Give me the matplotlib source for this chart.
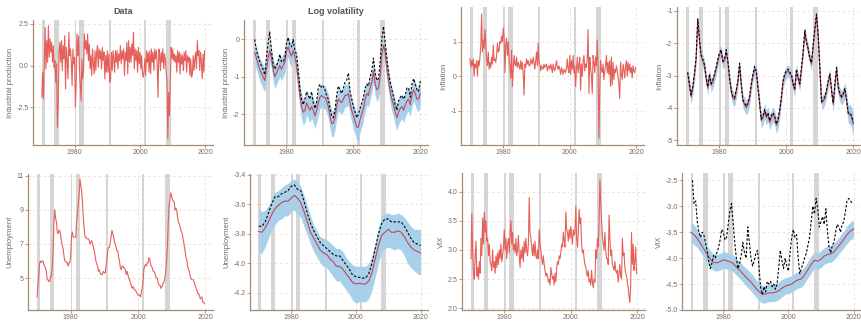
import numpy as np
import matplotlib.pyplot as plt

plt.rcParams['font.family'] = ['Liberation Sans', 'DejaVu Sans']
plt.rcParams['axes.unicode_minus'] = False

# NBER recessions (start, end)
recessions = [(1969.92, 1970.83), (1973.83, 1975.17), (1980.0, 1980.5), (1981.5, 1982.83),
              (1990.5, 1991.17), (2001.17, 2001.83), (2007.92, 2009.42)]

# ---- observed data, quarterly from 1970 ----
ip_data = [-1.9, -0.4, -2.0, 0.3, 2.3, -0.2, 1.5, 0.2, 2.4, 0.5, 1.6, 0.8, 1.4, 0.2, 1.2, -0.1,
           0.3, -1.0, 0.1, -3.7, -2.3, 0.8, 1.4, 0.2, 1.5, -0.3, 1.2, 0.4, 1.8, -1.4, 1.1, 0.3,
           -0.8, 2.0, 0.6, 1.0, 0.2, -1.2, 1.0, 0.1, 0.5, -2.5, -1.0, 1.9, 0.6, 1.8, -0.3, -1.2,
           -2.1, 0.4, -0.8, -0.3, 1.9, 1.0, 1.5, 0.7, 1.9, 0.3, 1.3, -0.2, 0.6, -0.6, 1.0, 0.1,
           -0.5, 0.9, -0.3, 0.8, 1.2, -0.1, 1.0, 0.4, 0.9, -0.2, 1.1, 0.3, 0.8, -0.8, 0.6, -0.4,
           0.9, -0.4, 0.7, -1.0, -0.9, 0.8, -0.3, 0.9, 0.4, -0.4, 0.9, 0.2, 0.9, -0.2, 0.7, 0.3,
           1.2, 0.1, 0.9, 0.4, 1.0, -0.6, 0.8, 0.3, 1.4, -0.5, 1.5, 0.2, 1.1, 0.2, 1.3, 0.6,
           2.0, -0.2, 1.0, 0.3, 0.9, -0.4, 1.1, 0.1, 0.8, -0.2, 0.6, -0.5, -0.7, -0.3, 0.4, -0.6,
           0.9, 0.2, 0.8, -0.4, 0.9, -0.5, 1.0, 0.2, 0.8, -0.3, 1.0, 0.4, 0.9, 0.1, -1.9, 1.0,
           0.7, -0.3, 0.8, 0.2, 1.0, -0.2, 0.7, 0.3, -0.4, -0.9, -4.4, -1.6, -3.0, -1.1, 1.1, 0.4,
           1.0, 0.3, 0.7, 0.2, 0.6, -0.4, 0.9, 0.2, 0.8, -0.5, 0.7, 0.1, 0.6, -0.3, 0.8, 0.3,
           0.9, -0.4, 0.6, 0.2, 0.5, -0.6, 0.4, -0.7, -0.5, 0.6, -0.3, 0.4, 0.8, -0.2, 1.5, 0.6,
           0.9, -0.3, 0.8, 0.2, -0.8, 0.7, -0.4, 0.9]

infl_data = [0.5, 0.25, 0.45, 0.3, 0.5, 0.0, 0.35, 0.25, 0.45, 0.0, 0.45, 0.3, 0.55, 0.9, 1.8, 0.7,
             1.05, 0.8, 1.35, 0.9, 0.5, 0.3, 0.7, 0.2, 0.4, 0.25, 0.55, 0.35, 0.9, 0.45, 0.5, 0.4,
             0.6, 0.95, 0.7, 0.75, 1.0, 0.95, 1.15, 1.0, 1.4, 1.1, 0.1, 0.9, 1.1, 0.6, 1.0, 0.45,
             0.3, -0.05, 0.75, -0.3, 0.2, 0.6, 0.35, 0.3, 0.55, 0.25, 0.4, 0.3, 0.2, 0.45, 0.2, 0.4,
             0.05, -0.55, 0.35, 0.25, 0.5, 0.35, 0.45, 0.3, 0.3, 0.5, 0.4, 0.35, 0.55, 0.4, 0.2, 0.45,
             0.7, 0.3, 0.95, 0.4, 0.35, 0.15, 0.3, 0.25, 0.2, 0.35, 0.25, 0.3, 0.35, 0.15, 0.25, 0.3,
             0.2, 0.35, 0.25, 0.1, 0.35, 0.2, 0.15, 0.3, 0.45, 0.25, 0.2, 0.3, 0.2, 0.05, 0.25, 0.15,
             0.05, 0.2, 0.15, 0.1, 0.25, 0.5, 0.2, 0.1, 0.6, 0.05, 0.45, 0.2, 0.6, 0.1, 0.3, -0.3,
             0.2, 0.55, 0.1, 0.3, 0.55, -0.4, 0.35, 0.0, 0.45, 0.6, 0.15, 0.35, 0.25, 0.55, 1.35, -0.5,
             0.55, 0.25, 0.0, -0.5, 0.6, 0.4, 0.1, 0.55, 0.3, 1.05, 0.2, -1.8, -0.4, 0.45, 0.2, 0.1,
             0.35, -0.1, 0.15, 0.3, 0.6, 0.1, 0.4, 0.05, 0.45, -0.3, 0.55, -0.25, 0.4, -0.1, 0.2, 0.1,
             0.3, 0.15, 0.0, -0.25, -0.65, 0.4, 0.05, -0.1, 0.35, 0.2, -0.05, 0.3, 0.45, 0.0, 0.4, 0.15,
             0.35, 0.1, 0.25, -0.05, 0.3, 0.15, 0.1, 0.25]

unemp_data = [3.9, 4.6, 5.1, 5.9, 6.0, 5.9, 6.0, 6.0, 5.8, 5.7, 5.6, 5.4, 4.9, 4.9, 4.8, 4.8,
              5.1, 5.1, 5.6, 6.6, 8.2, 9.0, 8.5, 8.3, 7.7, 7.6, 7.8, 7.8, 7.5, 7.1, 6.9, 6.7,
              6.3, 6.0, 6.0, 5.9, 5.9, 5.7, 5.9, 5.9, 6.3, 7.5, 7.7, 7.4, 7.4, 7.4, 7.4, 8.3,
              8.8, 9.4, 9.9, 10.8, 10.4, 10.1, 9.4, 8.5, 7.9, 7.4, 7.4, 7.3, 7.3, 7.3, 7.2, 7.0,
              7.1, 7.2, 7.0, 6.8, 6.6, 6.3, 6.0, 5.8, 5.7, 5.4, 5.5, 5.3, 5.2, 5.2, 5.3, 5.4,
              5.3, 5.3, 5.7, 6.1, 6.6, 6.8, 6.8, 7.1, 7.4, 7.8, 7.6, 7.4, 7.1, 7.0, 6.8, 6.6,
              6.6, 6.2, 6.0, 5.6, 5.5, 5.7, 5.7, 5.6, 5.6, 5.5, 5.2, 5.4, 5.2, 5.0, 4.9, 4.7,
              4.6, 4.4, 4.5, 4.4, 4.3, 4.3, 4.2, 4.1, 4.0, 4.0, 4.0, 3.9, 4.2, 4.4, 4.8, 5.5,
              5.7, 5.8, 5.7, 5.9, 5.9, 6.2, 6.1, 5.8, 5.7, 5.6, 5.4, 5.4, 5.3, 5.1, 5.0, 5.0,
              4.7, 4.6, 4.6, 4.4, 4.5, 4.5, 4.7, 4.8, 5.0, 5.4, 6.0, 6.9, 8.3, 9.3, 9.6, 10.0,
              9.8, 9.6, 9.5, 9.5, 9.0, 9.1, 9.0, 8.6, 8.3, 8.2, 8.0, 7.8, 7.7, 7.5, 7.2, 6.9,
              6.6, 6.2, 6.1, 5.7, 5.5, 5.4, 5.1, 5.0, 4.9, 4.9, 4.9, 4.7, 4.6, 4.4, 4.3, 4.1,
              4.1, 4.0, 3.8, 3.8, 3.9, 3.6, 3.6, 3.5]

vix_data = [2.85, 3.62, 3.0, 2.6, 2.5, 2.9, 3.15, 2.55, 2.7, 2.5, 2.8, 2.6, 3.2, 2.9, 3.55, 3.1,
            3.65, 3.3, 3.5, 3.15, 3.2, 2.9, 3.1, 2.8, 2.75, 2.65, 3.0, 2.7, 2.8, 2.6, 2.9, 2.7,
            2.95, 2.75, 3.0, 2.85, 3.1, 2.8, 2.9, 3.05, 3.35, 3.0, 3.2, 2.85, 3.1, 3.2, 2.95, 3.3,
            3.5, 3.1, 3.3, 3.0, 3.1, 2.95, 3.2, 2.9, 3.0, 3.25, 2.9, 2.7, 3.0, 2.85, 3.05, 2.8,
            3.15, 2.95, 3.2, 3.0, 2.9, 3.1, 3.9, 3.3, 3.2, 3.05, 2.9, 3.1, 2.9, 3.15, 2.9, 2.85,
            3.0, 2.85, 3.35, 3.1, 3.0, 2.85, 2.75, 2.9, 2.75, 2.65, 2.55, 2.6, 2.55, 2.45, 2.5, 2.4,
            2.7, 2.6, 2.5, 2.55, 2.4, 2.6, 2.45, 2.7, 2.8, 2.75, 2.9, 2.85, 2.95, 3.1, 3.05, 3.3,
            3.15, 3.05, 3.65, 3.35, 3.3, 3.15, 3.35, 3.2, 3.4, 3.25, 3.1, 3.35, 3.25, 3.3, 3.75, 3.2,
            3.05, 3.3, 3.7, 3.45, 3.55, 3.1, 2.95, 3.0, 2.85, 2.75, 2.7, 2.6, 2.55, 2.65, 2.45, 2.5,
            2.4, 2.65, 2.45, 2.35, 2.5, 2.45, 3.0, 2.85, 3.2, 3.05, 3.5, 4.2, 3.8, 3.5, 3.25, 3.1,
            3.0, 3.3, 3.0, 2.85, 2.85, 2.75, 3.6, 3.2, 2.9, 3.0, 2.75, 2.7, 2.65, 2.8, 2.65, 2.6,
            2.65, 2.45, 2.6, 2.75, 2.55, 2.5, 3.2, 2.9, 2.95, 2.7, 2.6, 2.55, 2.45, 2.35, 2.2, 2.1,
            2.4, 3.3, 2.75, 3.1, 2.65, 2.8, 3.05, 2.6]

# ---- estimated log volatility, half-yearly from 1970.5 ----
ip_vol_mean = [-0.35, -0.5, -0.65, -0.8, -0.9, -1.0, -1.1, -0.8, -0.5, -0.3,
               -0.5, -0.8, -1.0, -0.9, -0.8, -0.7, -0.8, -0.7, -0.6, -0.3,
               -0.2, -0.35, -0.45, -0.3, -0.45, -0.7, -1.1, -1.5, -1.8, -1.95,
               -1.9, -1.7, -1.8, -1.9, -1.8, -1.9, -2.05, -1.9, -1.7, -1.55,
               -1.5, -1.55, -1.55, -1.65, -1.8, -2.05, -2.25, -2.25, -2.1, -1.8,
               -1.6, -1.65, -1.7, -1.6, -1.5, -1.5, -1.45, -1.7, -1.9, -2.05,
               -2.2, -2.35, -2.35, -2.15, -2.0, -1.85, -1.6, -1.45, -1.5, -1.3,
               -1.15, -0.85, -1.2, -1.35, -1.3, -1.0, -0.4, -0.15, -0.35, -0.8,
               -1.1, -1.4, -1.6, -1.75, -1.95, -2.1, -1.95, -1.85, -1.8, -1.9,
               -1.75, -1.65, -1.6, -1.75, -1.5, -1.35, -1.45, -1.6, -1.6, -1.45]
ip_vol_true = [0.0, -0.3, -0.45, -0.6, -0.7, -0.8, -0.95, -0.5, -0.1, 0.2,
               -0.3, -0.65, -0.8, -0.7, -0.6, -0.4, -0.6, -0.6, -0.5, -0.1,
               0.05, -0.15, -0.2, 0.0, -0.3, -0.4, -0.8, -1.3, -1.6, -1.75,
               -1.6, -1.4, -1.5, -1.6, -1.4, -1.7, -1.85, -1.7, -1.3, -1.2,
               -1.3, -1.25, -1.35, -1.5, -1.6, -1.85, -2.05, -2.1, -1.9, -1.5,
               -1.25, -1.35, -1.45, -1.3, -1.15, -1.1, -0.9, -1.4, -1.6, -1.8,
               -1.95, -2.1, -2.0, -1.85, -1.7, -1.55, -1.3, -1.2, -1.25, -1.0,
               -0.85, -0.5, -0.9, -1.1, -1.05, -0.6, 0.0, 0.35, -0.1, -0.5,
               -0.9, -1.15, -1.35, -1.55, -1.75, -1.9, -1.65, -1.55, -1.5, -1.6,
               -1.5, -1.3, -1.3, -1.55, -1.2, -1.05, -1.2, -1.35, -1.4, -1.1]
ip_vol_sd = [0.3, 0.3, 0.3, 0.31, 0.32, 0.32, 0.3, 0.3, 0.3, 0.28,
             0.3, 0.31, 0.32, 0.31, 0.3, 0.3, 0.31, 0.3, 0.3, 0.28,
             0.28, 0.3, 0.3, 0.28, 0.3, 0.3, 0.31, 0.32, 0.33, 0.34,
             0.33, 0.32, 0.33, 0.33, 0.32, 0.33, 0.34, 0.33, 0.32, 0.31,
             0.31, 0.31, 0.31, 0.32, 0.33, 0.34, 0.35, 0.35, 0.34, 0.33,
             0.32, 0.32, 0.32, 0.32, 0.31, 0.31, 0.31, 0.32, 0.33, 0.34,
             0.35, 0.35, 0.35, 0.34, 0.33, 0.33, 0.32, 0.31, 0.31, 0.3,
             0.3, 0.29, 0.3, 0.31, 0.3, 0.3, 0.28, 0.28, 0.29, 0.3,
             0.31, 0.32, 0.33, 0.33, 0.34, 0.34, 0.33, 0.33, 0.33, 0.33,
             0.32, 0.32, 0.32, 0.32, 0.31, 0.31, 0.31, 0.32, 0.32, 0.33]

infl_vol_mean = [-2.95, -3.3, -3.65, -3.4, -3.0, -2.5, -1.3, -1.9, -2.4, -2.55,
                 -2.7, -3.1, -3.4, -3.0, -3.3, -3.2, -3.0, -2.8, -2.55, -2.35,
                 -2.25, -2.6, -2.55, -2.25, -2.6, -3.1, -3.5, -3.7, -3.75, -3.5,
                 -3.2, -2.7, -3.3, -3.8, -3.9, -4.0, -3.9, -3.7, -3.3, -3.0,
                 -2.8, -2.9, -3.4, -3.9, -4.4, -4.3, -4.1, -4.3, -4.2, -4.45,
                 -4.3, -4.2, -4.3, -4.55, -4.4, -4.1, -3.7, -3.2, -3.0, -2.9,
                 -2.85, -2.95, -3.0, -3.3, -3.45, -2.85, -3.1, -3.3, -2.8, -2.3,
                 -1.65, -2.0, -2.2, -2.5, -2.65, -2.1, -1.6, -1.15, -1.8, -2.8,
                 -3.85, -3.8, -3.7, -3.5, -3.2, -3.0, -3.5, -3.9, -3.3, -2.8,
                 -3.4, -3.6, -3.7, -3.6, -3.45, -3.8, -4.2, -4.2, -4.3, -4.5]
infl_vol_true = [-2.9, -3.25, -3.6, -3.35, -2.95, -2.45, -1.25, -1.85, -2.35, -2.5,
                 -2.65, -3.05, -3.35, -2.95, -3.25, -3.15, -2.95, -2.75, -2.5, -2.3,
                 -2.2, -2.55, -2.5, -2.2, -2.55, -3.05, -3.45, -3.65, -3.7, -3.45,
                 -3.15, -2.62, -3.25, -3.75, -3.85, -3.95, -3.85, -3.65, -3.25, -2.95,
                 -2.72, -2.85, -3.35, -3.85, -4.35, -4.25, -4.05, -4.25, -4.15, -4.4,
                 -4.25, -4.15, -4.25, -4.5, -4.35, -4.05, -3.65, -3.15, -2.95, -2.85,
                 -2.8, -2.9, -2.95, -3.25, -3.4, -2.8, -3.05, -3.25, -2.75, -2.25,
                 -1.6, -1.95, -2.15, -2.45, -2.6, -2.05, -1.55, -1.1, -1.75, -2.75,
                 -3.8, -3.75, -3.65, -3.45, -3.15, -2.95, -3.45, -3.85, -3.25, -2.75,
                 -3.35, -3.55, -3.65, -3.55, -3.4, -3.75, -4.15, -4.15, -4.25, -4.45]
infl_vol_sd = [0.25, 0.24, 0.23, 0.22, 0.21, 0.2, 0.18, 0.19, 0.2, 0.2,
               0.2, 0.2, 0.21, 0.2, 0.2, 0.2, 0.2, 0.19, 0.19, 0.18,
               0.18, 0.19, 0.19, 0.18, 0.19, 0.2, 0.21, 0.21, 0.21, 0.2,
               0.2, 0.19, 0.2, 0.21, 0.22, 0.22, 0.22, 0.21, 0.2, 0.2,
               0.19, 0.2, 0.21, 0.22, 0.23, 0.23, 0.23, 0.23, 0.23, 0.23,
               0.23, 0.23, 0.23, 0.24, 0.23, 0.22, 0.21, 0.2, 0.19, 0.19,
               0.19, 0.19, 0.2, 0.2, 0.21, 0.2, 0.2, 0.2, 0.19, 0.18,
               0.17, 0.18, 0.18, 0.19, 0.19, 0.18, 0.17, 0.16, 0.18, 0.2,
               0.21, 0.21, 0.21, 0.2, 0.2, 0.2, 0.21, 0.22, 0.21, 0.2,
               0.21, 0.22, 0.22, 0.23, 0.23, 0.25, 0.28, 0.3, 0.33, 0.37]

# ---- estimated log volatility, yearly from 1970 ----
unemp_vol_mean = [-3.785, -3.79, -3.76, -3.72, -3.67, -3.63, -3.61, -3.59, -3.58, -3.58,
                  -3.56, -3.54, -3.56, -3.59, -3.65, -3.72, -3.79, -3.83, -3.87, -3.91,
                  -3.93, -3.94, -3.97, -3.99, -4.02, -4.02, -4.04, -4.07, -4.10, -4.13,
                  -4.14, -4.135, -4.14, -4.14, -4.12, -4.06, -3.97, -3.88, -3.81, -3.79,
                  -3.77, -3.79, -3.79, -3.78, -3.79, -3.82, -3.86, -3.89, -3.91, -3.92, -3.93]
unemp_vol_true = [-3.75, -3.75, -3.72, -3.66, -3.60, -3.55, -3.55, -3.53, -3.52, -3.51,
                  -3.48, -3.47, -3.50, -3.51, -3.58, -3.66, -3.73, -3.78, -3.82, -3.86,
                  -3.88, -3.90, -3.92, -3.94, -3.95, -3.95, -3.98, -4.01, -4.04, -4.08,
                  -4.09, -4.095, -4.10, -4.10, -4.07, -4.0, -3.90, -3.80, -3.73, -3.70,
                  -3.70, -3.72, -3.72, -3.72, -3.72, -3.75, -3.79, -3.83, -3.86, -3.87, -3.88]
unemp_vol_hi = [-3.63, -3.65, -3.64, -3.61, -3.56, -3.52, -3.51, -3.49, -3.47, -3.46,
                -3.44, -3.43, -3.45, -3.48, -3.54, -3.61, -3.68, -3.74, -3.78, -3.82,
                -3.83, -3.84, -3.86, -3.88, -3.90, -3.90, -3.92, -3.96, -3.99, -4.01,
                -4.02, -4.02, -4.02, -4.02, -4.0, -3.95, -3.86, -3.76, -3.69, -3.66,
                -3.66, -3.67, -3.67, -3.66, -3.67, -3.69, -3.72, -3.75, -3.77, -3.77, -3.77]
unemp_vol_lo = [-3.93, -3.93, -3.89, -3.83, -3.77, -3.74, -3.71, -3.70, -3.68, -3.68,
                -3.65, -3.64, -3.67, -3.69, -3.75, -3.81, -3.87, -3.92, -3.96, -4.0,
                -4.02, -4.03, -4.06, -4.09, -4.12, -4.12, -4.15, -4.18, -4.21, -4.25,
                -4.27, -4.26, -4.26, -4.26, -4.24, -4.18, -4.09, -4.0, -3.92, -3.90,
                -3.89, -3.90, -3.91, -3.90, -3.91, -3.95, -4.0, -4.03, -4.05, -4.07, -4.08]

vix_vol_mean = [-3.50, -3.55, -3.62, -3.72, -3.82, -3.93, -4.02, -4.08, -4.09, -4.07,
                -4.03, -4.05, -4.07, -4.10, -4.17, -4.23, -4.30, -4.37, -4.43, -4.50,
                -4.58, -4.65, -4.70, -4.69, -4.67, -4.67, -4.66, -4.63, -4.58, -4.54,
                -4.52, -4.50, -4.45, -4.42, -4.40, -4.32, -4.22, -4.12, -4.04, -4.06,
                -4.02, -3.96, -3.93, -3.92, -3.88, -3.80, -3.72, -3.64, -3.55, -3.48, -3.44]
vix_vol_sd = [0.2, 0.19, 0.18, 0.17, 0.17, 0.17, 0.16, 0.16, 0.16, 0.16,
              0.16, 0.16, 0.16, 0.16, 0.16, 0.16, 0.16, 0.17, 0.17, 0.17,
              0.17, 0.17, 0.17, 0.17, 0.17, 0.17, 0.17, 0.17, 0.17, 0.16,
              0.16, 0.16, 0.16, 0.16, 0.16, 0.16, 0.16, 0.16, 0.16, 0.16,
              0.16, 0.16, 0.16, 0.16, 0.16, 0.16, 0.16, 0.16, 0.17, 0.17, 0.17]
# half-yearly from 1970.5
vix_vol_true = [-2.5, -2.95, -2.9, -3.3, -3.5, -3.6, -3.5, -3.55, -3.7, -3.85,
                -4.05, -4.2, -4.1, -3.95, -4.0, -3.9, -3.8, -3.65, -3.45, -3.5,
                -3.65, -3.6, -3.35, -3.1, -2.95, -3.3, -3.7, -4.0, -4.2, -4.1,
                -3.95, -3.7, -3.9, -4.0, -3.4, -3.7, -4.0, -4.15, -4.05, -3.9,
                -3.85, -4.2, -4.6, -4.7, -4.55, -4.65, -4.45, -4.5, -4.45, -4.55,
                -4.5, -4.6, -4.5, -4.2, -3.85, -4.05, -4.2, -4.0, -4.15, -4.25,
                -3.9, -3.6, -3.45, -3.6, -3.55, -4.0, -4.3, -4.2, -4.1, -4.0,
                -3.9, -3.75, -3.6, -3.3, -3.0, -3.15, -2.85, -3.05, -3.4, -3.3,
                -3.2, -3.35, -3.05, -3.5, -3.8, -3.9, -3.75, -3.7, -3.5, -3.35,
                -3.4, -3.5, -3.35, -3.3, -3.1, -2.9, -2.85, -2.88, -2.95]

RED = '#e5605a'
MEAN = '#c4455a'
BAND = '#a9d0ea'
SPINE = '#a48b72'
GRID = '#f1dccb'
TXT = '#6e6e6e'


def add_recessions(ax):
    for a, b in recessions:
        ax.axvspan(a, b, color='#d5d5d5', lw=0, zorder=1)


def style(ax, ylim, yticks, ylabel):
    ax.set_xlim(1967.3, 2022.3)
    ax.set_ylim(*ylim)
    ax.set_xticks([1980, 2000, 2020])
    ax.set_yticks(yticks)
    for s in ['top', 'right']:
        ax.spines[s].set_visible(False)
    for s in ['left', 'bottom']:
        ax.spines[s].set_color(SPINE)
        ax.spines[s].set_linewidth(0.9)
    ax.tick_params(length=2, width=0.6, color=SPINE, labelsize=5, labelcolor=TXT, pad=1.2)
    ax.grid(True, ls=(0, (3, 3)), color=GRID, lw=0.6, zorder=0)
    ax.set_axisbelow(True)
    ax.set_ylabel(ylabel, fontsize=5.6, color=TXT, labelpad=2)
    add_recessions(ax)


def vol_panel(ax, t, mean, lo, hi, t_true, true):
    ax.fill_between(t, lo, hi, color=BAND, lw=0, zorder=2)
    ax.plot(t, mean, color=MEAN, lw=0.8, zorder=3)
    ax.plot(t_true, true, color='black', lw=0.8, ls=(0, (2.2, 1.6)), zorder=4)


W, H = 862, 322
fig = plt.figure(figsize=(W / 100, H / 100), dpi=100)


def add_ax(l, t, r, b):
    return fig.add_axes([l / W, 1 - b / H, (r - l) / W, (b - t) / H])


t_q = 1970 + 0.25 * np.arange(len(ip_data))
t_h = 1970.5 + 0.5 * np.arange(len(ip_vol_mean))
t_y = 1970 + np.arange(len(unemp_vol_mean))
t_vh = 1970.5 + 0.5 * np.arange(len(vix_vol_true))

# row 1
ax = add_ax(33, 20, 213, 145)
ax.plot(t_q, ip_data, color=RED, lw=0.8, zorder=3)
style(ax, (-4.77, 2.74), [-2.5, 0, 2.5], 'Industrial production')
ax.set_title('Data', fontsize=6.5, fontweight='bold', color='#555555', pad=4)

ax = add_ax(244, 20, 428, 145)
m = np.array(ip_vol_mean)
s = np.array(ip_vol_sd)
vol_panel(ax, t_h, m, m - s, m + s, t_h, ip_vol_true)
style(ax, (-2.83, 0.52), [-2, -1, 0], 'Industrial production')
ax.set_title('Log volatility', fontsize=6.5, fontweight='bold', color='#555555', pad=4)

ax = add_ax(461, 7, 644, 145)
ax.plot(t_q[:len(infl_data)], infl_data, color=RED, lw=0.8, zorder=3)
style(ax, (-1.99, 2.0), [-1, 0, 1], 'Inflation')

ax = add_ax(677, 7, 861, 145)
m = np.array(infl_vol_mean)
s = np.array(infl_vol_sd)
vol_panel(ax, t_h, m, m - s, m + s, t_h, infl_vol_true)
style(ax, (-5.15, -0.88), [-5, -4, -3, -2, -1], 'Inflation')

# row 2
ax = add_ax(28, 174, 213, 310)
ax.plot(t_q[:len(unemp_data)], unemp_data, color=RED, lw=0.8, zorder=3)
style(ax, (3.13, 11.1), [5, 7, 9, 11], 'Unemployment')

ax = add_ax(250, 174, 428, 310)
vol_panel(ax, t_y, unemp_vol_mean, unemp_vol_lo, unemp_vol_hi, t_y, unemp_vol_true)
style(ax, (-4.316, -3.396), [-4.2, -4.0, -3.8, -3.6, -3.4], 'Unemployment')

ax = add_ax(462, 173, 645, 310)
ax.plot(t_q[:len(vix_data)], vix_data, color=RED, lw=0.8, zorder=3)
style(ax, (1.97, 4.32), [2.0, 2.5, 3.0, 3.5, 4.0], 'VIX')

ax = add_ax(682, 173, 861, 310)
m = np.array(vix_vol_mean)
s = np.array(vix_vol_sd)
vol_panel(ax, t_y, m, m - s, m + s, t_vh, vix_vol_true)
style(ax, (-5.0, -2.36), [-5.0, -4.5, -4.0, -3.5, -3.0, -2.5], 'VIX')

fig.savefig('out.png', dpi=100)
